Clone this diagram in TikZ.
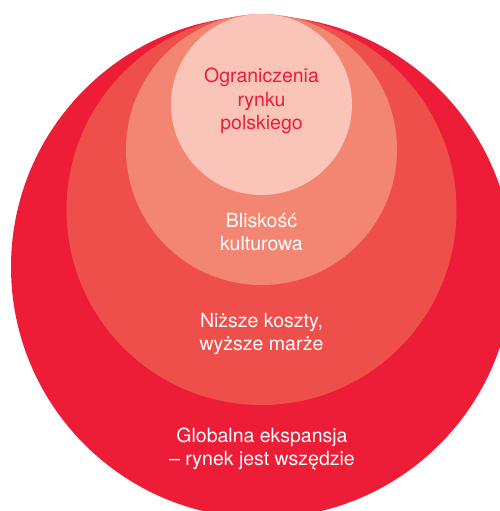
\documentclass[tikz,border=0pt]{standalone}
\usepackage{fontspec}
\setmainfont{TeX Gyre Heros}
\usepackage{tikz}
\usetikzlibrary{positioning}
\usepackage{xcolor}
\definecolor{globalred}{RGB}{237,28,55}
\definecolor{costred}{RGB}{239,79,74}
\definecolor{culturepink}{RGB}{242,134,114}
\definecolor{homepink}{RGB}{250,197,184}

\begin{document}
\begin{tikzpicture}[x=1pt, y=1pt, every node/.style={font=\fontsize{19.5}{23.5}\selectfont, align=center, text=white}]
  \useasboundingbox (0,0) rectangle (500,511);
  \clip (0,0) rectangle (500,511);
  \tikzset{ring/.style={circle, inner sep=0pt, draw=none}}

  \node[ring, fill=globalred, minimum size=502pt] (global) at (262,244) {};
  \node[ring, fill=costred, minimum size=390pt] (cost) at (261.5,301) {};
  \node[ring, fill=culturepink, minimum size=271pt] (culture) at (261.5,361.5) {};
  \node[ring, fill=homepink, minimum size=181pt] (home) at (261.5,406.5) {};

  \node[text=globalred] (homelbl) at (261.5,410) {Ograniczenia\\rynku\\polskiego};
  \node (culturelbl) at (261.5,279) {Bliskość\\kulturowa};
  \node (costlbl) at (261.5,177) {Niższe koszty,\\wyższe marże};
  \node (globallbl) at (262,62) {Globalna ekspansja\\– rynek jest wszędzie};
\end{tikzpicture}
\end{document}
